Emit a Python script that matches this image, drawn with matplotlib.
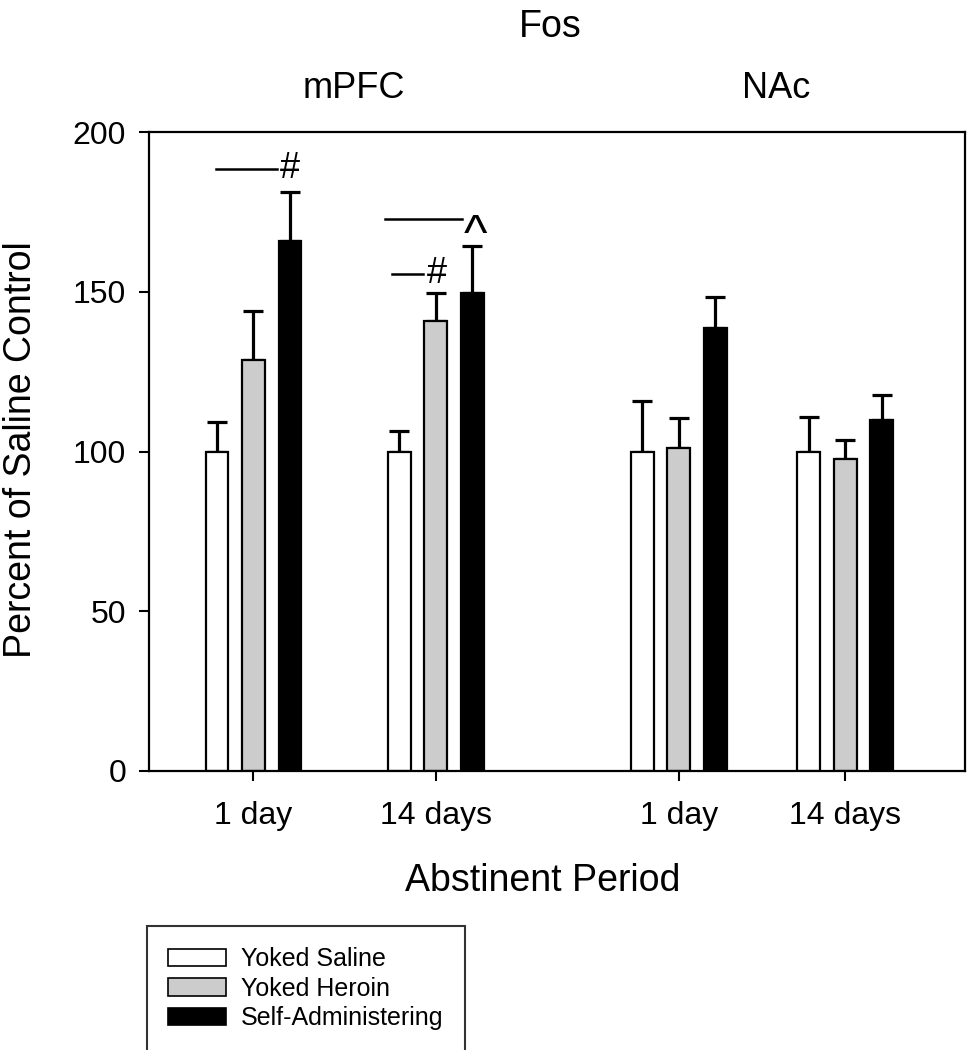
import matplotlib
matplotlib.use("Agg")
import matplotlib.pyplot as plt
import numpy as np
from matplotlib.patches import Patch

plt.rcParams['font.family'] = ['Liberation Sans', 'DejaVu Sans']

# ---- data ----
regions = ["mPFC", "NAc"]
tick_labels = ["1 day", "14 days", "1 day", "14 days"]
series_names = ["Yoked Saline", "Yoked Heroin", "Self-Administering"]
yoked_saline = [100.0, 100.0, 100.0, 100.0]
yoked_saline_err = [9.3, 6.5, 15.8, 10.7]
yoked_heroin = [128.7, 140.8, 101.2, 97.6]
yoked_heroin_err = [15.3, 8.8, 9.2, 6.0]
self_admin = [165.9, 149.6, 138.5, 110.0]
self_admin_err = [15.4, 14.8, 9.9, 7.6]
y_ticks = [0, 50, 100, 150, 200]

# ---- layout ----
W, H = 968, 1050
fig = plt.figure(figsize=(W / 100, H / 100), dpi=100)
ax_l, ax_r, ax_t, ax_b = 149, 965, 132, 771
ax = fig.add_axes([ax_l / W, 1 - ax_b / H, (ax_r - ax_l) / W, (ax_b - ax_t) / H])

unit = 36.5  # px per bar step
group_centers = np.array([2.863, 7.855, 14.515, 19.08])
bar_w = 0.63
colors = ["white", "#cccccc", "black"]
series = [yoked_saline, yoked_heroin, self_admin]
errs = [yoked_saline_err, yoked_heroin_err, self_admin_err]

for i, (vals, e, c, name) in enumerate(zip(series, errs, colors, series_names)):
    x = group_centers + (i - 1)
    ax.bar(x, vals, width=bar_w, color=c, edgecolor="black", linewidth=1.6,
           label=name, zorder=2)
    ax.errorbar(x, vals, yerr=[np.zeros(len(e)), e], fmt="none", ecolor="black",
                elinewidth=2.3, capsize=7.5, capthick=2.3, zorder=1)

ax.set_xlim(0, (ax_r - ax_l) / unit)
ax.set_ylim(0, 200)
ax.set_yticks(y_ticks)
ax.set_xticks(group_centers)
ax.set_xticklabels(tick_labels)
for s in ax.spines.values():
    s.set_linewidth(1.6)
ax.tick_params(axis="both", direction="out", length=7.5, width=1.5, labelsize=23)
ax.tick_params(axis="y", pad=9)
ax.tick_params(axis="x", pad=14)

# significance markers
lw_sig = 1.8
ax.plot([1.83, 3.52], [188.4, 188.4], color="black", lw=lw_sig)
ax.text(group_centers[0] + 1, 188.6, "#", ha="center", va="center", fontsize=26)
ax.plot([6.47, 8.57], [172.8, 172.8], color="black", lw=lw_sig)
ax.text(group_centers[1] + 1.08, 174.5, "^", ha="center", va="top", fontsize=36)
ax.plot([6.65, 7.52], [155.6, 155.6], color="black", lw=lw_sig)
ax.text(group_centers[1] + 0.04, 155.8, "#", ha="center", va="center", fontsize=26)

# titles and labels
fig.text(550 / W, 1 - 27 / H, "Fos", ha="center", va="center", fontsize=27)
fig.text(354 / W, 1 - 88 / H, regions[0], ha="center", va="center", fontsize=26)
fig.text(776 / W, 1 - 89 / H, regions[1], ha="center", va="center", fontsize=26)
fig.text(543 / W, 1 - 881 / H, "Abstinent Period", ha="center", va="center", fontsize=27)
fig.text(21 / W, 1 - 450 / H, "Percent of Saline Control", ha="center", va="center",
         rotation=90, fontsize=27)

handles = [Patch(facecolor=c, edgecolor="black", linewidth=1.2) for c in colors]
leg = fig.legend(handles, series_names, loc="upper left",
                 bbox_to_anchor=(147 / W, 1 - 926 / H), frameon=True, fancybox=False,
                 edgecolor="black", fontsize=18, handlelength=2.3, handleheight=0.7,
                 labelspacing=0.22, borderpad=0.85, handletextpad=0.6,
                 borderaxespad=0)
leg.get_frame().set_linewidth(1.5)

fig.savefig("out.png", dpi=100)
